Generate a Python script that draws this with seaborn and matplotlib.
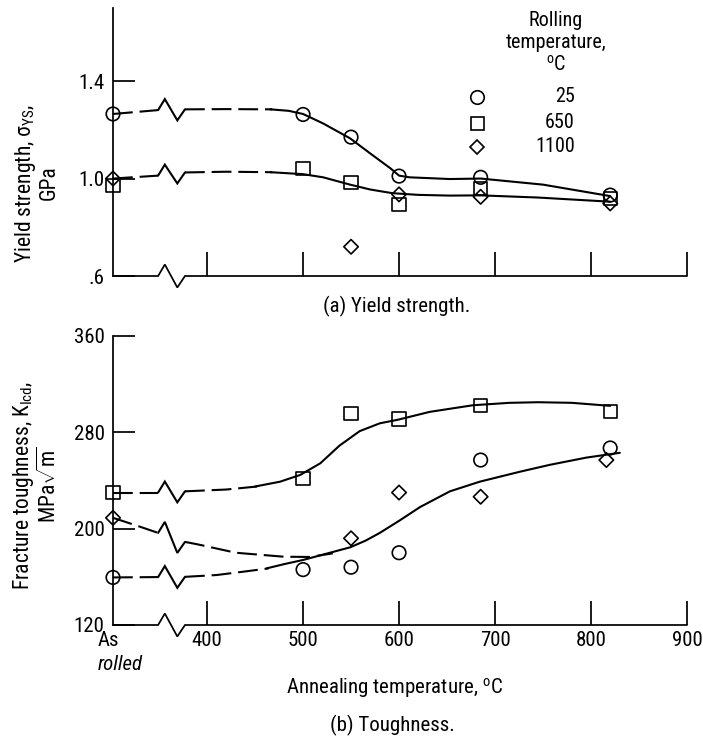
import numpy as np
import pandas as pd
import matplotlib
matplotlib.use("Agg")
import matplotlib.pyplot as plt
import matplotlib.font_manager as fm
import seaborn as sns

# ---------------- data ----------------
AS_ROLLED = 302          # plotting position of the "As rolled" condition on the x scale
BREAK_X = [349, 356, 369, 377]   # axis-break zigzag span on the x scale

rolling_labels = ["25", "650", "1100"]
marker_of = {"25": "o", "650": "s", "1100": "D"}
msize_of = {"25": 95, "650": 90, "1100": 54}

# (a) yield strength, GPa
ys_temp_25 = [AS_ROLLED, 500, 550, 600, 685, 820]
ys_val_25 = [1.265, 1.263, 1.170, 1.010, 1.005, 0.932]
ys_temp_650 = [AS_ROLLED, 500, 550, 600, 685, 820]
ys_val_650 = [0.973, 1.042, 0.983, 0.895, 0.960, 0.919]
ys_temp_1100 = [AS_ROLLED, 550, 600, 685, 820]
ys_val_1100 = [1.000, 0.720, 0.935, 0.925, 0.898]

# (b) fracture toughness, MPa*sqrt(m)
kt_temp_25 = [AS_ROLLED, 500, 550, 600, 685, 820]
kt_val_25 = [159.5, 166, 168, 180, 257, 267]
kt_temp_650 = [AS_ROLLED, 500, 550, 600, 685, 820]
kt_val_650 = [230, 242, 295.5, 291, 302, 297]
kt_temp_1100 = [AS_ROLLED, 550, 600, 685, 816]
kt_val_1100 = [209, 192, 230, 226.5, 257]

# hand-drawn fit curves: dashed part before break, dashed part after break, solid part
ys_hi_pre_t = [AS_ROLLED, 349]
ys_hi_pre_v = [1.265, 1.281]
ys_hi_post_t = [377, 420, 468]
ys_hi_post_v = [1.284, 1.285, 1.284]
ys_hi_sol_t = [466, 485, 500, 521, 549, 570, 591, 600, 611, 653, 685, 750, 820]
ys_hi_sol_v = [1.284, 1.278, 1.265, 1.226, 1.165, 1.103, 1.042, 1.012, 1.005, 0.998, 1.0, 0.975, 0.928]

ys_lo_pre_t = [AS_ROLLED, 349]
ys_lo_pre_v = [1.000, 1.012]
ys_lo_post_t = [377, 420, 468]
ys_lo_post_v = [1.025, 1.028, 1.026]
ys_lo_sol_t = [466, 500, 521, 549, 570, 593, 620, 653, 685, 745, 820]
ys_lo_sol_v = [1.026, 1.018, 1.005, 0.975, 0.955, 0.940, 0.933, 0.930, 0.931, 0.922, 0.905]

kt_sq_pre_t = [AS_ROLLED, 349]
kt_sq_pre_v = [230, 230]
kt_sq_post_t = [377, 420, 452]
kt_sq_post_v = [231, 232.5, 235]
kt_sq_sol_t = [450, 476, 497, 518, 538, 559, 580, 599, 632, 677, 715, 745, 780, 820]
kt_sq_sol_v = [235, 239, 244.6, 254.3, 269, 281, 287.5, 290.5, 297, 302.5, 304.5, 305, 304.5, 302]

kt_lo_pre_t = [AS_ROLLED, 349]
kt_lo_pre_v = [159.5, 159.8]
kt_lo_post_t = [377, 410, 440, 464]
kt_lo_post_v = [160, 161.5, 164.5, 167]
kt_lo_sol_t = [462, 480, 500, 528, 549, 565, 580, 601, 622, 653, 684, 726, 757, 795, 830]
kt_lo_sol_v = [167, 170.5, 174, 180, 184.5, 190, 196.5, 207, 218, 231, 239, 247.3, 253, 259, 263]

kt_di_pre_t = [AS_ROLLED, 325, 349]
kt_di_pre_v = [209, 203, 196.5]
kt_di_post_t = [377, 390, 430, 480, 507, 531]
kt_di_post_v = [189, 187, 180, 176.7, 176.5, 179.5]

x_ticks = [400, 500, 600, 700, 800, 900]
ys_ticks = [0.6, 1.0, 1.4]
ys_ticklabels = [".6", "1.0", "1.4"]
kt_ticks = [120, 200, 280, 360]

# ---------------- style ----------------
sns.set_theme(style="white")
available = {f.name for f in fm.fontManager.ttflist}
MAIN = "DejaVu Sans"
for cand in ["Roboto Condensed", "Liberation Sans Narrow", "Archivo Narrow",
             "PT Sans Narrow", "IBM Plex Sans Condensed", "Open Sans Condensed"]:
    if cand in available:
        MAIN = cand
        break
FONT = [MAIN, "DejaVu Sans"]
plt.rcParams["font.family"] = FONT
plt.rcParams.update({
    "mathtext.fontset": "custom",
    "mathtext.rm": MAIN,
    "mathtext.it": MAIN + ":italic",
    "mathtext.bf": MAIN + ":bold",
    "mathtext.sf": MAIN,
    "text.color": "black",
    "axes.labelcolor": "black",
    "xtick.color": "black",
    "ytick.color": "black",
})

W, H = 703, 742
fig = plt.figure(figsize=(W / 100, H / 100), dpi=100)
fig.patch.set_facecolor("white")

def fx(px):
    return px / W

def fy(py):
    return 1 - py / H

ax_a = fig.add_axes([fx(113), fy(276), 574 / W, 268 / H])
ax_b = fig.add_axes([fx(113), fy(625), 574 / W, 289 / H])

LW = 1.5
AXLW = 1.25
DASH = (0, (9.5, 3.3))
TICKFS = 15
TXTFS = 15
YLFS = 15.5


def scatter_series(ax, temps, vals, key):
    df = pd.DataFrame({"temp": temps, "val": vals})
    sns.scatterplot(data=df, x="temp", y="val", ax=ax, marker=marker_of[key],
                    s=msize_of[key], facecolor="none", edgecolor="black",
                    linewidth=1.2, zorder=3, clip_on=False)


def draw_curve(ax, pre_t, pre_v, post_t, post_v, sol_t, sol_v, amp):
    sns.lineplot(x=pre_t, y=pre_v, ax=ax, color="black", lw=LW, linestyle=DASH,
                 estimator=None, sort=False)
    zz_y = [pre_v[-1], pre_v[-1] + amp, post_v[0] - amp, post_v[0]]
    ax.plot(BREAK_X, zz_y, color="black", lw=LW, solid_joinstyle="miter")
    sns.lineplot(x=post_t, y=post_v, ax=ax, color="black", lw=LW, linestyle=DASH,
                 estimator=None, sort=False)
    if sol_t is not None:
        sns.lineplot(x=sol_t, y=sol_v, ax=ax, color="black", lw=LW,
                     estimator=None, sort=False)


def style_axes(ax, ylim, yticks, yticklabels, show_xlabels, ax_h_px):
    ax.set_xlim(AS_ROLLED, 900)
    ax.set_ylim(*ylim)
    ax.set_facecolor("white")
    for s in ["top", "right", "bottom"]:
        ax.spines[s].set_visible(False)
    ax.spines["left"].set_linewidth(AXLW)
    ax.spines["left"].set_color("black")
    ax.spines["left"].set_zorder(4)
    # x axis line with break zigzag
    a = 11.5 / ax_h_px
    ax.plot([AS_ROLLED, BREAK_X[0], BREAK_X[1], BREAK_X[2], BREAK_X[3], 900],
            [0, 0, a, -a, 0, 0], color="black", lw=AXLW,
            transform=ax.get_xaxis_transform(), clip_on=False, zorder=4,
            solid_joinstyle="miter")
    ax.set_xticks(x_ticks)
    if show_xlabels:
        ax.set_xticklabels([str(t) for t in x_ticks])
    else:
        ax.set_xticklabels([])
    ax.set_yticks(yticks)
    ax.set_yticklabels(yticklabels)
    ax.tick_params(axis="x", direction="in", length=17, width=AXLW,
                   labelsize=TICKFS, pad=4, bottom=True, color="black")
    ax.tick_params(axis="y", direction="in", length=16, width=AXLW,
                   labelsize=TICKFS, pad=6, left=True, color="black")
    ax.set_xlabel("")
    ax.set_ylabel("")
    ax.grid(False)


# ---------------- panel (a) ----------------
amp_a = 11 * (1.7 - 0.6) / 268
draw_curve(ax_a, ys_hi_pre_t, ys_hi_pre_v, ys_hi_post_t, ys_hi_post_v,
           ys_hi_sol_t, ys_hi_sol_v, amp_a)
draw_curve(ax_a, ys_lo_pre_t, ys_lo_pre_v, ys_lo_post_t, ys_lo_post_v,
           ys_lo_sol_t, ys_lo_sol_v, amp_a)
scatter_series(ax_a, ys_temp_25, ys_val_25, "25")
scatter_series(ax_a, ys_temp_650, ys_val_650, "650")
scatter_series(ax_a, ys_temp_1100, ys_val_1100, "1100")
style_axes(ax_a, (0.6, 1.7), ys_ticks, ys_ticklabels, False, 268)

# ---------------- panel (b) ----------------
amp_b = 11 * (360 - 120) / 289
draw_curve(ax_b, kt_sq_pre_t, kt_sq_pre_v, kt_sq_post_t, kt_sq_post_v,
           kt_sq_sol_t, kt_sq_sol_v, amp_b)
draw_curve(ax_b, kt_lo_pre_t, kt_lo_pre_v, kt_lo_post_t, kt_lo_post_v,
           kt_lo_sol_t, kt_lo_sol_v, amp_b)
draw_curve(ax_b, kt_di_pre_t, kt_di_pre_v, kt_di_post_t, kt_di_post_v,
           None, None, amp_b)
scatter_series(ax_b, kt_temp_25, kt_val_25, "25")
scatter_series(ax_b, kt_temp_650, kt_val_650, "650")
scatter_series(ax_b, kt_temp_1100, kt_val_1100, "1100")
style_axes(ax_b, (120, 360), kt_ticks, [str(t) for t in kt_ticks], True, 289)

# ---------------- texts ----------------
DEG = r"$^{\mathrm{o}}$C"
fig.text(fx(36), fy(183), "Yield strength, \u03c3$_{\mathrm{YS}}$,\nGPa",
         rotation=90, ha="center", va="center", multialignment="center",
         fontsize=YLFS, linespacing=1.05)
fig.text(fx(36), fy(485), "Fracture toughness, K$_{\mathrm{Icd}}$,\nMPa$\\sqrt{\\mathrm{m}}$",
         rotation=90, ha="center", va="center", multialignment="center",
         fontsize=YLFS, linespacing=1.05)

fig.text(fx(397), fy(306), "(a) Yield strength.", ha="center", va="center", fontsize=TXTFS)
fig.text(fx(395), fy(688), "Annealing temperature, " + DEG, ha="center", va="center", fontsize=TXTFS)
fig.text(fx(392), fy(725), "(b) Toughness.", ha="center", va="center", fontsize=TXTFS)

fig.text(fx(98), fy(641), "As", ha="left", va="center", fontsize=TICKFS)
fig.text(fx(98), fy(665), "rolled", ha="left", va="center", fontsize=TICKFS, style="italic")

# legend (drawn by hand to follow the original layout)
fig.text(fx(556), fy(43), "Rolling\ntemperature,\n" + DEG, ha="center", va="center",
         multialignment="center", fontsize=14.5, linespacing=1.2)
leg_y = [97, 123, 147]
leg_px = {"25": 13.5, "650": 13, "1100": 10}
for key, py in zip(rolling_labels, leg_y):
    ax_a.plot([fx(477)], [fy(py)], marker=marker_of[key], ms=leg_px[key] * 0.72,
              mfc="none", mec="black", mew=1.2, ls="none",
              transform=fig.transFigure, clip_on=False)
    fig.text(fx(575), fy(py), key, ha="right", va="center", fontsize=14.5)

fig.savefig("out.png", dpi=100, facecolor="white")
